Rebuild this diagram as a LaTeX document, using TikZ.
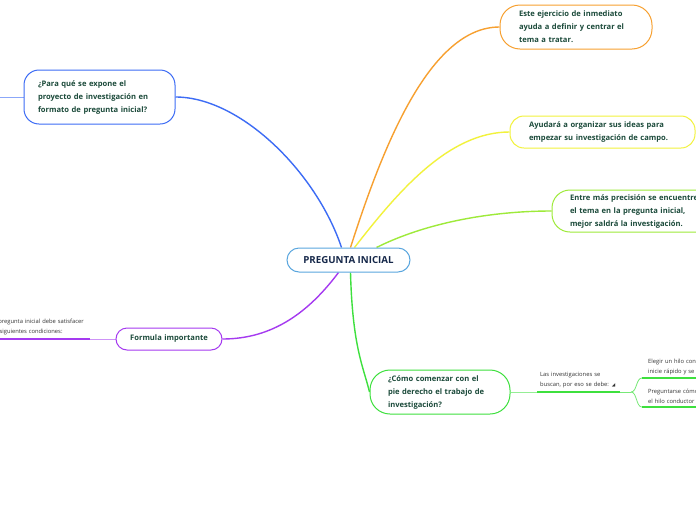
\documentclass[tikz,border=0pt]{standalone}
\usepackage{fontspec}
\setmainfont{Open Sans}
\newfontfamily\dejavu{DejaVu Sans}
\usetikzlibrary{backgrounds}
\definecolor{cblue}{HTML}{3D6CF5}
\definecolor{corange}{HTML}{F7A030}
\definecolor{cyellow}{HTML}{F2F23C}
\definecolor{clime}{HTML}{9EEA3A}
\definecolor{cgreen}{HTML}{3EE03E}
\definecolor{cpurple}{HTML}{A53AF0}
\definecolor{ccentral}{HTML}{5AA6DE}
\definecolor{ctext}{HTML}{1B4A3A}
\definecolor{cnavy}{HTML}{16284A}
\begin{document}
\begin{tikzpicture}[x=1pt,y=-1pt,
  topic/.style={draw, line width=1pt, fill=white, text=ctext, align=left,
    inner ysep=0pt, font=\bfseries\fontsize{7.6}{13}\selectfont},
  leaf/.style={text=black!80, align=left, inner xsep=3pt, inner ysep=3pt,
    font=\fontsize{5.8}{10}\selectfont},
  conn/.style={line width=1.4pt},
  thin/.style={line width=0.8pt}]
\clip (0,0) rectangle (696,520);
% nodes
\node[topic, draw=ccentral, rounded corners=12pt, minimum width=123pt, minimum height=24pt,
  text=cnavy, align=center, font=\bfseries\fontsize{9.7}{12}\selectfont] (c) at (348.5,260) {PREGUNTA INICIAL};
\node[topic, draw=cblue, rounded corners=15pt, text width=123pt, inner xsep=14pt, minimum height=54pt]
  (q1) at (99.5,97) {¿Para qué se expone el\\proyecto de investigación en\\formato de pregunta inicial?};
\node[topic, draw=corange, rounded corners=20pt, text width=114pt, inner xsep=19pt, minimum height=44pt]
  (o1) at (576,27) {Este ejercicio de inmediato\\ayuda a definir y centrar el\\tema a tratar.};
\node[topic, draw=cyellow, rounded corners=14pt, text width=147pt, inner xsep=19pt, minimum height=32pt]
  (y1) at (602.5,132) {Ayudará a organizar sus ideas para\\empezar su investigación de campo.};
\node[topic, draw=clime, rounded corners=18pt, text width=150pt, inner xsep=18pt, minimum height=42pt]
  (l1) at (645,211) {Entre más precisión se encuentre\\el tema en la pregunta inicial,\\mejor saldrá la investigación.};
\node[topic, draw=cpurple, rounded corners=11pt, text width=80pt, inner xsep=13pt, minimum height=22pt, align=center]
  (p1) at (169,339) {Formula importante};
\node[topic, draw=cgreen, rounded corners=20pt, text width=104pt, inner xsep=18pt, minimum height=44pt]
  (g1) at (440,392) {¿Cómo comenzar con el\\pie derecho el trabajo de\\investigación?};
% leaves
\node[leaf, anchor=south west, text width=97pt, inner ysep=4pt] (pl) at (-13,339)
  {La pregunta inicial debe satisfacer\\las siguientes condiciones:};
\node[leaf, anchor=south west, text width=77pt, inner ysep=4pt] (las) at (537,392)
  {Las investigaciones se\\buscan, por eso se debe: {\dejavu\fontsize{4.5}{10}\selectfont ◢}};
\node[leaf, anchor=south west, text width=70pt, inner xsep=6pt] (e1) at (642,378) {Elegir un hilo con\\inicie rápido y se};
\node[leaf, anchor=south west, text width=70pt, inner xsep=6pt] (e2) at (642,407) {Preguntarse cómo\\el hilo conductor};
\coordinate (offl) at (-5,97);
\coordinate (br) at (631,392);
% connectors
\begin{pgfonlayer}{background}
\fill[white] (0,0) rectangle (696,520);
\draw[conn, cblue] ([xshift=-7pt]c.north) .. controls +(-25,-75) and +(65,0) .. (q1.east);
\draw[conn, corange] ([xshift=2pt]c.north) .. controls +(32,-100) and +(-70,0) .. (o1.west);
\draw[conn, cyellow] ([xshift=6pt]c.north) .. controls +(45,-58) and +(-60,0) .. (y1.west);
\draw[conn, clime] ([xshift=28pt]c.north) .. controls +(50,-25) and +(-60,0) .. (l1.west);
\draw[conn, cpurple] ([xshift=-10pt]c.south) .. controls +(-30,40) and +(50,0) .. (p1.east);
\draw[conn, cgreen] ([xshift=2pt]c.south) .. controls +(2,75) and +(-6,-25) .. (g1.west);
\draw[thin, cblue!60] (q1.west) -- (offl);
\draw[thin, cpurple!55] (p1.west) -- (pl.south east);
\draw[line width=2.2pt, cpurple] (pl.south west) -- (pl.south east);
\draw[thin, cgreen!55] (g1.east) -- (las.south west);
\draw[line width=2.2pt, cgreen] (las.south west) -- (las.south east);
\draw[thin, cgreen!70] (las.south east) -- (br);
\draw[thin, cgreen!70] (br) .. controls +(6,0) and +(-6,0) .. (e1.south west);
\draw[thin, cgreen!70] (br) .. controls +(6,0) and +(-6,0) .. (e2.south west);
\draw[line width=2.2pt, cgreen] (e1.south west) -- (e1.south east);
\draw[line width=2.2pt, cgreen] (e2.south west) -- (e2.south east);
\end{pgfonlayer}
\end{tikzpicture}
\end{document}
